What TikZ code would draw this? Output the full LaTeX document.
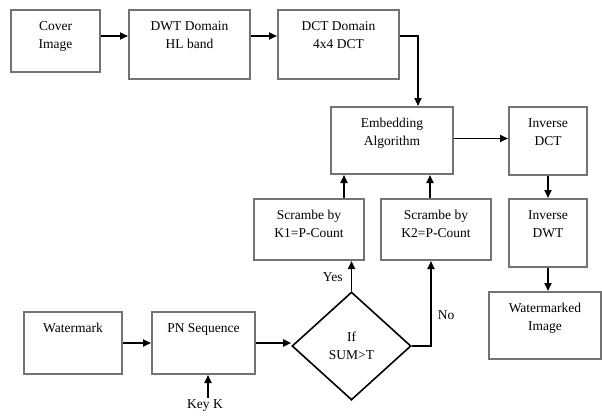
\documentclass[tikz,border=0pt]{standalone}
\usepackage{fontspec}
\setmainfont{Liberation Serif}
\usetikzlibrary{arrows.meta, positioning, shapes.geometric}

\begin{document}
\begin{tikzpicture}[
	x=1pt, y=-1pt,
	font=\fontsize{13.5}{18}\selectfont,
	blk/.style={draw=black!55, line width=2pt, anchor=north west, inner sep=0pt},
	blktext/.style={anchor=north, align=center, yshift=-12pt, inner sep=0pt},
	decision/.style={diamond, draw, line width=1.6pt, align=center, inner sep=0pt, minimum width=119pt, minimum height=108pt},
	arr/.style={-{Triangle[length=8pt, width=7pt]}, line width=1.8pt},
	lbl/.style={inner sep=0pt}
	]
	\useasboundingbox (0,0) rectangle (602,416);
	
	% --- upper row: cover image and transforms ---
	\node[blk, minimum width=89pt, minimum height=62pt, label={[blktext]north:{Cover\\Image}}] (cover) at (10,9) {};
	\node[blk, minimum width=121pt, minimum height=69pt, label={[blktext]north:{DWT Domain\\HL band}}] (dwt) at (128,9) {};
	\node[blk, minimum width=121pt, minimum height=69pt, label={[blktext]north:{DCT Domain\\4x4 DCT}}] (dct) at (277,9) {};
	\node[blk, minimum width=122pt, minimum height=67pt, label={[blktext]north:{Embedding\\Algorithm}}] (embed) at (330,106) {};
	\node[blk, minimum width=78pt, minimum height=68pt, label={[blktext]north:{Inverse\\DCT}}] (idct) at (508,106) {};
	\node[blk, minimum width=78pt, minimum height=68pt, label={[blktext]north:{Inverse\\DWT}}] (idwt) at (508,198) {};
	\node[blk, minimum width=112pt, minimum height=67pt, label={[blktext]north:{Watermarked\\Image}}] (wmimg) at (488,291) {};
	
	% --- scrambling ---
	\node[blk, minimum width=110pt, minimum height=61pt, label={[blktext]north:{Scrambe by\\K1=P-Count}}] (k1) at (253,198) {};
	\node[blk, minimum width=110pt, minimum height=61pt, label={[blktext]north:{Scrambe by\\K2=P-Count}}] (k2) at (380,198) {};
	
	% --- lower row: watermark side ---
	\node[blk, minimum width=98pt, minimum height=62pt, label={[blktext]north:{Watermark}}] (wm) at (23,311) {};
	\node[blk, minimum width=103pt, minimum height=62pt, label={[blktext]north:{PN Sequence}}] (pn) at (151,311) {};
	\node[decision] (cond) at (351.5,346) {If\\SUM>T};
	\node[lbl, inner sep=2pt] (key) at (205,406) {Key K};
	
	% --- arrows ---
	\draw[arr] ([yshift=5pt]cover.east) -- ([yshift=5pt]cover.east -| dwt.west);
	\draw[arr] ([yshift=8.5pt]dwt.east) -- ([yshift=8.5pt]dwt.east -| dct.west);
	\draw[arr] ([yshift=8.5pt]dct.east) -| ([xshift=26pt]embed.north);
	\draw[arr] ([yshift=2pt]embed.east) -- ([yshift=2pt]embed.east -| idct.west);
	\draw[arr] (idct.south) -- (idwt.north);
	\draw[arr] (idwt.south) -- (idwt.south |- wmimg.north);
	\draw[arr] ([xshift=35pt]k1.north) -- ([xshift=35pt]k1.north |- embed.south);
	\draw[arr] ([xshift=-6pt]k2.north) -- ([xshift=-6pt]k2.north |- embed.south);
	\draw[arr] (cond.north) -- node[lbl, left=8pt, pos=0.45] {Yes} (cond.north |- k1.south);
	\draw[arr] (cond.east) -| node[lbl, right=6pt, pos=0.68] {No} ([xshift=-5pt]k2.south);
	\draw[arr] (wm.east) -- (pn.west);
	\draw[arr] (pn.east) -- (pn.east -| cond.west);
	\draw[arr] ([xshift=3pt]key.north) -- ([xshift=3pt]key.north |- pn.south);
	
\end{tikzpicture}
\end{document}
